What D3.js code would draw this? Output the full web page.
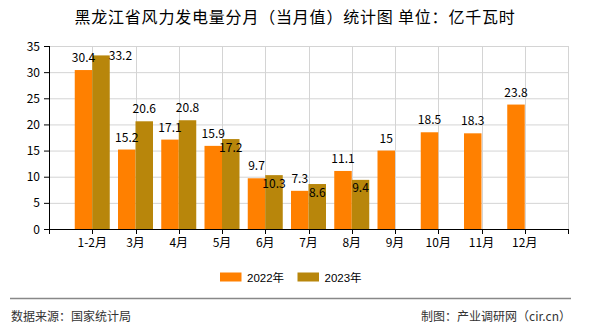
<!DOCTYPE html>
<html><head><meta charset="utf-8">
<script src="https://cdn.jsdelivr.net/npm/d3@7"></script>
<style>
html,body{margin:0;padding:0;background:#fff;}
svg{display:block;}
text{font-family:"Noto Sans CJK SC","Noto Sans",sans-serif;}
</style></head>
<body>
<svg id="chart" width="590" height="330"></svg>
<script>
const categories = ["1-2月","3月","4月","5月","6月","7月","8月","9月","10月","11月","12月"];
const series2022 = [30.4,15.2,17.1,15.9,9.7,7.3,11.1,15,18.5,18.3,23.8];
const series2023 = [33.2,20.6,20.8,17.2,10.3,8.6,9.4,null,null,null,null];
const seriesNames = ["2022年","2023年"];
const seriesColors = ["#FF8000","#B8860B"];
const yTicks = [0,5,10,15,20,25,30,35];
const titleText = "黑龙江省风力发电量分月（当月值）统计图 单位：亿千瓦时";
const sourceText = "数据来源：国家统计局";
const creditText = "制图：产业调研网（cir.cn）";

const svg = d3.select("#chart");
const L = 49, R = 568, T = 46, B = 229;

const x = d3.scalePoint().domain(categories).range([L, R]).padding(1);
const step = x.step();
const y = d3.scaleLinear().domain([0, 35]).range([B, T]);
const bw = 17.5;

// title
svg.append("text").attr("x", 295).attr("y", 22.5).attr("text-anchor","middle")
  .style("font-size","16px").style("letter-spacing","0.8px").attr("fill","#000").text(titleText);

// grid
const g = svg.append("g");
g.selectAll(".hg").data(yTicks.filter(d=>d>0)).join("line")
  .attr("x1", L).attr("x2", R).attr("y1", d=>y(d)+0.5).attr("y2", d=>y(d)+0.5)
  .attr("stroke","#d4d4d4").attr("stroke-width",1);
const bounds = d3.range(categories.length + 2).map(i => L + i*step);
g.selectAll(".vg").data(bounds.slice(1)).join("line")
  .attr("x1", d=>Math.round(d)+0.5).attr("x2", d=>Math.round(d)+0.5).attr("y1", T).attr("y2", B)
  .attr("stroke","#d4d4d4").attr("stroke-width",1);

// bars
const data = categories.map((c,i)=>({c, v0:series2022[i], v1:series2023[i]}));
g.selectAll(".b0").data(data).join("rect")
  .attr("x", d=>x(d.c)-bw).attr("width", bw)
  .attr("y", d=>y(d.v0)).attr("height", d=>y(0)-y(d.v0))
  .attr("fill", seriesColors[0]);
g.selectAll(".b1").data(data.filter(d=>d.v1!=null)).join("rect")
  .attr("x", d=>x(d.c)).attr("width", bw)
  .attr("y", d=>y(d.v1)).attr("height", d=>y(0)-y(d.v1))
  .attr("fill", seriesColors[1]);

// axes
const axG = svg.append("g");
axG.append("line").attr("x1", L+0.5).attr("x2", L+0.5).attr("y1", T).attr("y2", B+0.5).attr("stroke","#000");
axG.append("line").attr("x1", L).attr("x2", R+1).attr("y1", B+0.5).attr("y2", B+0.5).attr("stroke","#000");
axG.selectAll(".yt").data(yTicks).join("line")
  .attr("x1", L-5).attr("x2", L).attr("y1", d=>y(d)+0.5).attr("y2", d=>y(d)+0.5).attr("stroke","#000");
axG.selectAll(".ytl").data(yTicks).join("text")
  .attr("x", L-9).attr("y", d=>y(d)+4.5).attr("text-anchor","end")
  .style("font-size","12px").attr("fill","#000").text(d=>d);
axG.selectAll(".xt").data(bounds).join("line")
  .attr("x1", d=>Math.round(d)+0.5).attr("x2", d=>Math.round(d)+0.5).attr("y1", B).attr("y2", B+5).attr("stroke","#000");
axG.selectAll(".xtl").data(categories).join("text")
  .attr("x", d=>x(d)).attr("y", 246.5).attr("text-anchor","middle")
  .style("font-size","12px").attr("fill","#000").text(d=>d);

// labels
const lab = svg.append("g").style("font-size","12px").attr("fill","#000");
data.forEach(d=>{
  const cx0 = x(d.c) - bw/2;
  const c0 = y(d.v0) - 12.5;
  lab.append("text").attr("x", cx0).attr("y", c0 + 4.5).attr("text-anchor","middle").text(d.v0);
  if (d.v1 != null) {
    const cx1 = x(d.c) + bw/2;
    let c1 = y(d.v1) - 12.5;
    if (c1 - 6 < T) {
      lab.append("text").attr("x", x(d.c)+bw-1).attr("y", y(d.v1)+4.5).attr("text-anchor","start").text(d.v1);
    } else if (Math.abs(c1 - c0) < 14) {
      c1 = y(d.v1) + 8;
      lab.append("text").attr("x", cx1).attr("y", c1 + 4.5).attr("text-anchor","middle").text(d.v1);
    } else {
      lab.append("text").attr("x", cx1).attr("y", c1 + 4.5).attr("text-anchor","middle").text(d.v1);
    }
  }
});

// legend
const leg = svg.append("g");
const legX = [220, 297.5];
seriesNames.forEach((n,i)=>{
  leg.append("rect").attr("x", legX[i]).attr("y", 272.5).attr("width", 21.5).attr("height", 9).attr("fill", seriesColors[i]);
  leg.append("text").attr("x", legX[i]+27).attr("y", 281.5)
    .style("font-family","'Liberation Sans','Noto Sans CJK SC',sans-serif").style("font-size","11.5px")
    .attr("fill","#000").text(n);
});

// footer
svg.append("line").attr("x1", 10).attr("x2", 571).attr("y1", 298.5).attr("y2", 298.5).attr("stroke","#888").attr("stroke-width",1.5);
svg.append("text").attr("x", 11).attr("y", 321).style("font-size","12px").attr("fill","#333").text(sourceText);
svg.append("text").attr("x", 571).attr("y", 321).attr("text-anchor","end").style("font-size","12px").attr("fill","#333").text(creditText);
</script>
</body></html>
